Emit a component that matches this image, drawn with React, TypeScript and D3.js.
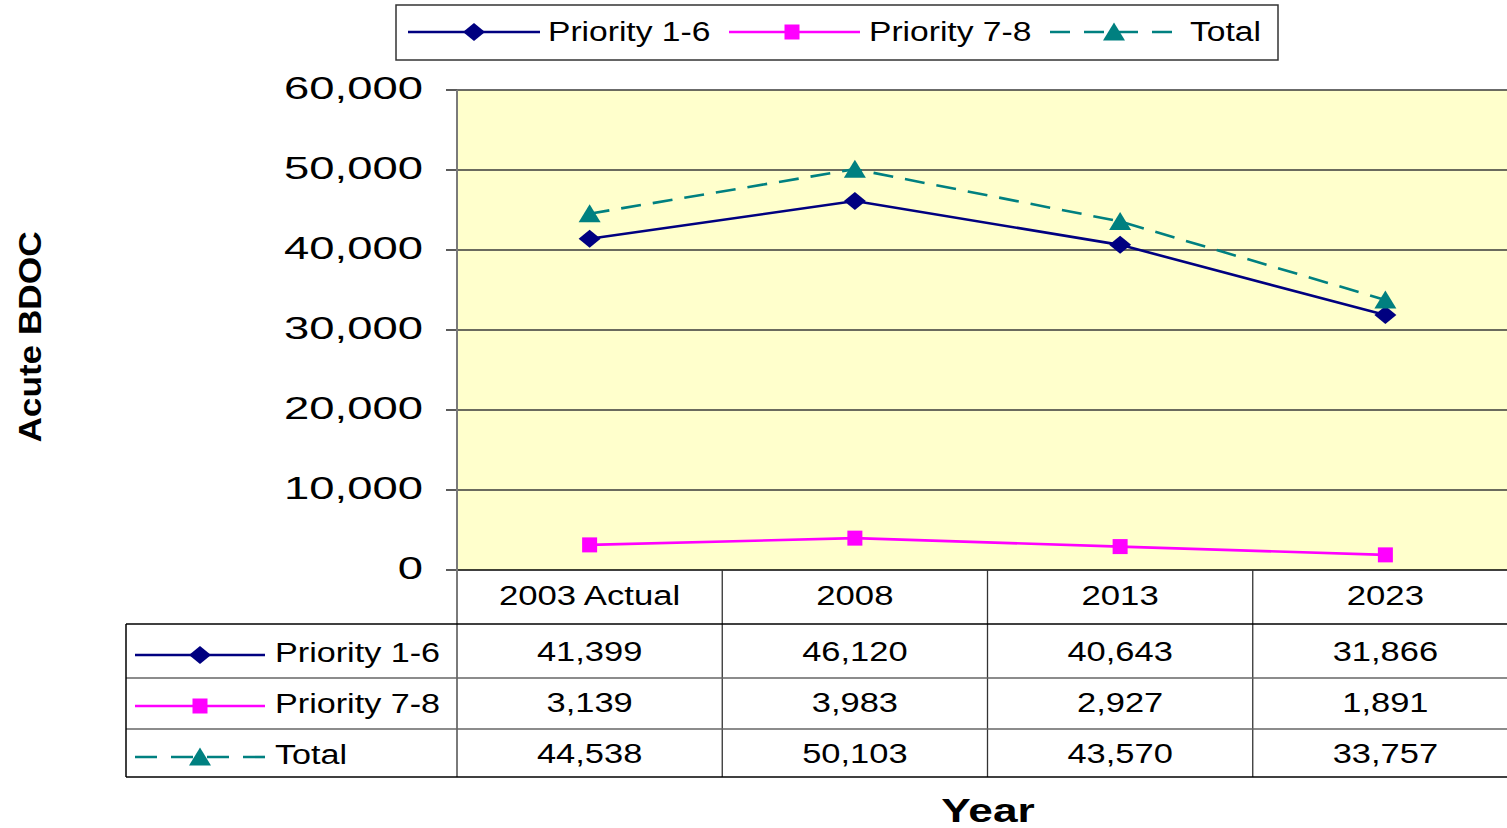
import React from "react";
import * as d3 from "d3";

const categories = ["2003 Actual", "2008", "2013", "2023"];
const priority16 = [41399, 46120, 40643, 31866];
const priority78 = [3139, 3983, 2927, 1891];
const totals = [44538, 50103, 43570, 33757];
const yTicks = [0, 10000, 20000, 30000, 40000, 50000, 60000];

const W = 1507;
const H = 828;
const FONT = "Arial, 'Liberation Sans', sans-serif";

const NAVY = "#000080";
const MAGENTA = "#FF00FF";
const TEAL = "#008080";

type Kind = "diamond" | "square" | "triangle";

function Marker({ kind, x, y }: { kind: Kind; x: number; y: number }) {
  if (kind === "diamond") {
    return <polygon points={`${x - 11},${y} ${x},${y - 9} ${x + 11},${y} ${x},${y + 9}`} fill={NAVY} />;
  }
  if (kind === "square") {
    return <rect x={x - 7.5} y={y - 7.5} width={15} height={15} fill={MAGENTA} />;
  }
  return <polygon points={`${x - 11},${y + 8.5} ${x},${y - 9.5} ${x + 11},${y + 8.5}`} fill={TEAL} />;
}

function SText({ x, y, sx, anchor, size, weight, children }: any) {
  return (
    <text
      transform={`translate(${x},${y}) scale(${sx},1)`}
      textAnchor={anchor}
      fontFamily={FONT}
      fontSize={size}
      fontWeight={weight || "normal"}
      fill="#000"
    >
      {children}
    </text>
  );
}

export default function App() {
  const plotL = 457;
  const plotR = 1518;
  const plotT = 90;
  const plotB = 570;
  const x = d3.scaleBand<string>().domain(categories).range([plotL, plotR]).padding(0);
  const y = d3.scaleLinear().domain([0, 60000]).range([plotB, plotT]);
  const cx = (c: string) => (x(c) as number) + x.bandwidth() / 2;
  const fmt = d3.format(",");

  const series = [
    { name: "Priority 1-6", values: priority16, color: NAVY, kind: "diamond" as Kind, dash: undefined },
    { name: "Priority 7-8", values: priority78, color: MAGENTA, kind: "square" as Kind, dash: undefined },
    { name: "Total", values: totals, color: TEAL, kind: "triangle" as Kind, dash: "20,12" },
  ];

  const line = d3
    .line<number>()
    .x((_, i) => cx(categories[i]))
    .y((d) => y(d));

  const legendItems = [
    { lx0: 408, lx1: 540, mx: 474, tx: 548 },
    { lx0: 729, lx1: 860, mx: 792, tx: 869 },
    { lx0: 1050, lx1: 1180, mx: 1114, tx: 1190 },
  ];

  const rowLineY = [655, 706, 757];
  const rowValueBase = [661, 712, 763];
  const tableTop = 624;
  const tableBottom = 777;
  const rowDividers = [678, 729];

  return (
    <svg
      width={W}
      height={H}
      style={{ position: "absolute", left: 0, top: 0, display: "block", background: "#fff" }}
    >
      {/* plot background */}
      <rect x={plotL} y={plotT} width={plotR - plotL} height={plotB - plotT} fill="#FFFFCC" />

      {/* gridlines */}
      {yTicks.map((t) => (
        <line key={t} x1={plotL} x2={plotR} y1={y(t)} y2={y(t)} stroke={t === 0 ? "#000" : "#3a3a3a"} strokeWidth={t === 0 ? 1.6 : 1.3} />
      ))}
      {/* tick marks */}
      {yTicks.map((t) => (
        <line key={"tk" + t} x1={446} x2={plotL} y1={y(t)} y2={y(t)} stroke="#000" strokeWidth={1.3} />
      ))}
      {/* y tick labels */}
      {yTicks.map((t) => (
        <SText key={"tl" + t} x={423} y={y(t) + 9} sx={1.42} anchor="end" size={32}>
          {fmt(t)}
        </SText>
      ))}

      {/* series */}
      {series.map((s) => (
        <g key={s.name}>
          <path d={line(s.values) || ""} fill="none" stroke={s.color} strokeWidth={2.6} strokeDasharray={s.dash} />
          {s.values.map((v, i) => (
            <Marker key={i} kind={s.kind} x={cx(categories[i])} y={y(v)} />
          ))}
        </g>
      ))}

      {/* left axis line */}
      <line x1={plotL} x2={plotL} y1={plotT} y2={tableBottom} stroke="#7a7a7a" strokeWidth={2} />

      {/* table */}
      {categories.slice(1).map((c) => (
        <line key={"v" + c} x1={x(c) as number} x2={x(c) as number} y1={plotB} y2={tableBottom} stroke="#333" strokeWidth={1.3} />
      ))}
      <line x1={126} x2={W} y1={tableTop} y2={tableTop} stroke="#000" strokeWidth={1.5} />
      {rowDividers.map((d) => (
        <line key={"r" + d} x1={126} x2={W} y1={d} y2={d} stroke="#666" strokeWidth={1.3} />
      ))}
      <line x1={126} x2={W} y1={tableBottom} y2={tableBottom} stroke="#000" strokeWidth={1.5} />
      <line x1={126} x2={126} y1={tableTop} y2={tableBottom} stroke="#000" strokeWidth={1.5} />

      {categories.map((c) => (
        <SText key={"c" + c} x={cx(c)} y={605} sx={1.24} anchor="middle" size={28}>
          {c}
        </SText>
      ))}

      {series.map((s, r) => (
        <g key={"row" + s.name}>
          <line
            x1={135}
            x2={265}
            y1={rowLineY[r]}
            y2={rowLineY[r]}
            stroke={s.color}
            strokeWidth={2.6}
            strokeDasharray={s.kind === "triangle" ? "22,14" : undefined}
          />
          <Marker kind={s.kind} x={200} y={rowLineY[r]} />
          <SText x={275} y={rowValueBase[r] + 1} sx={1.22} anchor="start" size={28}>
            {s.name}
          </SText>
          {s.values.map((v, i) => (
            <SText key={i} x={cx(categories[i])} y={rowValueBase[r]} sx={1.23} anchor="middle" size={28}>
              {fmt(v)}
            </SText>
          ))}
        </g>
      ))}

      {/* legend */}
      <rect x={396} y={5} width={882} height={55} fill="#fff" stroke="#333" strokeWidth={1.5} />
      {series.map((s, i) => {
        const li = legendItems[i];
        return (
          <g key={"lg" + s.name}>
            <line x1={li.lx0} x2={li.lx1} y1={32} y2={32} stroke={s.color} strokeWidth={2.6} strokeDasharray={s.kind === "triangle" ? "20,14" : undefined} />
            <Marker kind={s.kind} x={li.mx} y={32} />
            <SText x={li.tx} y={41} sx={1.2} anchor="start" size={28}>
              {s.name}
            </SText>
          </g>
        );
      })}

      {/* axis titles */}
      <text
        transform={`translate(41,337) rotate(-90) scale(1.1,1)`}
        textAnchor="middle"
        fontFamily={FONT}
        fontSize={32}
        fontWeight="bold"
        fill="#000"
      >
        Acute BDOC
      </text>
      <SText x={988} y={822} sx={1.3} anchor="middle" size={34} weight="bold">
        Year
      </SText>
    </svg>
  );
}
